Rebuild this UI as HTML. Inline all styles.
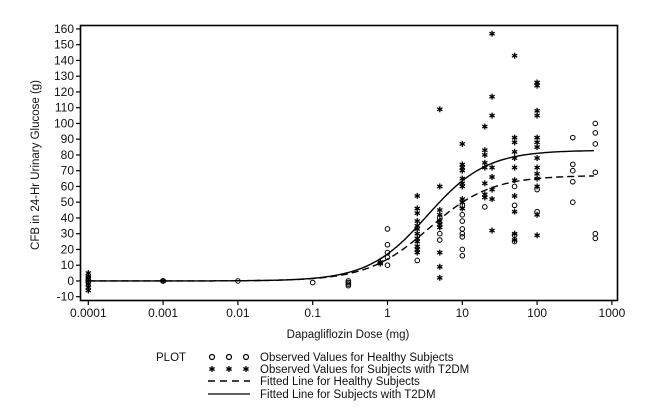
<!DOCTYPE html>
<html><head><meta charset="utf-8"><style>
body{margin:0;background:#fff}
svg{display:block}
text{font-family:"Liberation Sans Narrow","Liberation Sans",sans-serif;fill:#111}
</style></head><body>
<svg id="chart" width="650" height="412" viewBox="0 0 650 412" xmlns="http://www.w3.org/2000/svg"></svg>
<script>
const xTicks=[0.0001,0.001,0.01,0.1,1,10,100,1000];
const xTickLabels=["0.0001","0.001","0.01","0.1","1","10","100","1000"];
const yTicks=[-10,0,10,20,30,40,50,60,70,80,90,100,110,120,130,140,150,160];
const t2dmDoses=[0.0001,0.0001,0.0001,0.0001,0.0001,0.0001,0.0001,0.001,0.8,0.8,
2.5,2.5,2.5,2.5,2.5,2.5,2.5,2.5,2.5,2.5,2.5,2.5,
5,5,5,5,5,5,5,5,5,5,
10,10,10,10,10,10,10,10,10,10,
20,20,20,20,20,20,20,20,
25,25,25,25,25,25,25,25,
50,50,50,50,50,50,50,50,50,50,50,
100,100,100,100,100,100,100,100,100,100,100,100,100,100];
const t2dmValues=[5,3,2,0,-2,-4,-6,0,12,11,
54,46,43,38,35,33,30,27,25,22,20,18,
109,60,45,42,38,36,34,18,9,2,
87,74,72,70,65,62,60,52,50,46,
98,83,80,75,72,62,55,53,
157,117,105,72,66,58,52,32,
143,91,88,82,78,72,64,54,44,30,26,
126,124,108,105,91,88,85,78,72,68,65,60,42,29];
const healthyDoses=[0.0001,0.0001,0.0001,0.001,0.001,0.01,0.1,0.3,0.3,0.3,0.3,
1,1,1,1,1,2.5,5,5,5,10,10,10,10,10,10,10,10,20,
50,50,50,50,100,100,300,300,300,300,300,600,600,600,600,600,600];
const healthyValues=[1,0,-1,0,0,0,-1,0,-1,-2,-3,
33,23,18,15,10,13,40,30,26,48,42,38,33,30,28,20,16,47,
60,48,29,25,44,58,91,74,70,63,50,100,94,87,69,30,27];
const t2dmFit={emax:83,ed50:3.4,hill:1.1};
const healthyFit={emax:67,ed50:3.6,hill:1.05};

const NS="http://www.w3.org/2000/svg";
const svg=document.getElementById('chart');
const X0=88.3,DEC=74.8,Y0=296.7,YU=1.575;
function xs(d){return X0+(Math.log10(d)+4)*DEC;}
function ys(v){return Y0-(v+10)*YU;}
function el(t,a,p){const e=document.createElementNS(NS,t);for(const k in a)e.setAttribute(k,a[k]);(p||svg).appendChild(e);return e;}

const box=el('rect',{x:80.5,y:25.5,width:537,height:275,fill:'none',stroke:'#000','stroke-width':1.6});



xTicks.forEach((t,i)=>{
  const x=xs(t);
  const l=el('line',{x1:x,x2:x,y1:301,y2:305,stroke:'#000','stroke-width':1.2});
  
  
  const tx=el('text',{x:x,y:317,'font-size':12,'text-anchor':'middle'});
  tx.textContent=xTickLabels[i];
  
  
});
yTicks.forEach(t=>{
  const y=ys(t);
  const l=el('line',{x1:76,x2:80.5,y1:y,y2:y,stroke:'#000','stroke-width':1.2});
  
  
  const tx=el('text',{x:74,y:y+4,'font-size':12,'text-anchor':'end'});
  tx.textContent=String(t);
  
  
});

function fit(f,d){const a=Math.pow(d,f.hill);return f.emax*a/(Math.pow(f.ed50,f.hill)+a);}
function curve(f,dash,name){
  let pts=[];
  for(let lg=-4;lg<=Math.log10(600)+1e-9;lg+=0.02){const d=Math.pow(10,lg);pts.push(xs(d).toFixed(1)+','+ys(fit(f,d)).toFixed(1));}
  const p=el('polyline',{points:pts.join(' '),fill:'none',stroke:'#000','stroke-width':1.4,'stroke-dasharray':dash||'none'});
  
  
}
curve(healthyFit,'7,4','fitted-line-healthy');
curve(t2dmFit,null,'fitted-line-t2dm');

function star(x,y,g){
  const r=3;
  [[0,r],[r*0.87,r*0.5],[r*0.87,-r*0.5]].forEach(([dx,dy])=>el('line',{x1:x-dx,y1:y-dy,x2:x+dx,y2:y+dy,stroke:'#000','stroke-width':1.3},g));
}
const gs=el('g',{});


t2dmDoses.forEach((d,i)=>star(xs(d),ys(t2dmValues[i]),gs));
const gc=el('g',{});


healthyDoses.forEach((d,i)=>el('circle',{cx:xs(d),cy:ys(healthyValues[i]),r:2.3,fill:'none',stroke:'#000','stroke-width':1},gc));

const yt=el('text',{x:0,y:0,'font-size':11.5,'text-anchor':'middle',transform:'translate(39,165) rotate(-90)'});
yt.textContent='CFB in 24-Hr Urinary Glucose (g)';


const xt=el('text',{x:348,y:338,'font-size':11.5,'text-anchor':'middle'});
xt.textContent='Dapagliflozin Dose (mg)';



const lg=el('g',{});


const pl=el('text',{x:156,y:361,'font-size':11.5},lg);pl.textContent='PLOT';
const rows=[357,369,381,394];
const labels=['Observed Values for Healthy Subjects','Observed Values for Subjects with T2DM','Fitted Line for Healthy Subjects','Fitted Line for Subjects with T2DM'];
[212,229,246].forEach(x=>el('circle',{cx:x,cy:rows[0],r:2.5,fill:'none',stroke:'#000','stroke-width':1.2},lg));
[212,229,246].forEach(x=>star(x,rows[1],lg));
el('line',{x1:208,x2:250,y1:rows[2],y2:rows[2],stroke:'#000','stroke-width':1.4,'stroke-dasharray':'7,5'},lg);
el('line',{x1:208,x2:250,y1:rows[3],y2:rows[3],stroke:'#000','stroke-width':1.2},lg);
labels.forEach((t,i)=>{
  const tx=el('text',{x:260,y:rows[i]+4,'font-size':11.5},lg);
  tx.textContent=t;
  
  
});
</script>
</body></html>
